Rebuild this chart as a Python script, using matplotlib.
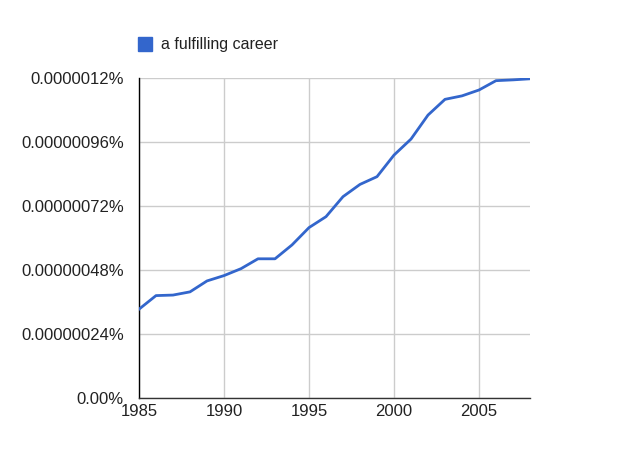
import matplotlib.pyplot as plt

plt.rcParams['font.family'] = ['Liberation Sans', 'DejaVu Sans']

# data (percent of all 3-grams)
years = list(range(1985, 2009))
freq = [0.333, 0.384, 0.386, 0.398, 0.439, 0.459, 0.485, 0.522, 0.522, 0.574,
        0.639, 0.680, 0.755, 0.801, 0.830, 0.911, 0.971, 1.061, 1.120, 1.133,
        1.155, 1.190, 1.193, 1.197]
freq = [v * 1e-6 for v in freq]

label = 'a fulfilling career'
y_ticks = [0.0, 0.24e-6, 0.48e-6, 0.72e-6, 0.96e-6, 1.2e-6]
y_tick_labels = ['0.00%', '0.00000024%', '0.00000048%', '0.00000072%',
                 '0.00000096%', '0.0000012%']
x_ticks = [1985, 1990, 1995, 2000, 2005]

blue = '#3366cc'

fig = plt.figure(figsize=(6.23, 4.57), dpi=100)
ax = fig.add_axes([139 / 623, 1 - 398 / 457, 391 / 623, 320 / 457])

ax.plot(years, freq, color=blue, lw=2.0, solid_joinstyle='round', zorder=3)

ax.set_xlim(1985, 2008)
ax.set_ylim(0, 1.2e-6)
ax.set_xticks(x_ticks)
ax.set_yticks(y_ticks)
ax.set_yticklabels(y_tick_labels)
ax.tick_params(length=0, labelsize=12, colors='#222222')
ax.tick_params(axis='x', pad=4)
ax.tick_params(axis='y', pad=11)

ax.grid(True, color='#cccccc', lw=1)
ax.set_axisbelow(True)
for s in ['top', 'right']:
    ax.spines[s].set_visible(False)
ax.spines['left'].set_color('#000000')
ax.spines['bottom'].set_color('#333333')
ax.spines['left'].set_linewidth(1)
ax.spines['bottom'].set_linewidth(1)

# legend box + text at top
fig.patches.append(plt.Rectangle((138 / 623, 1 - 51 / 457), 14 / 623, 14 / 457,
                                 transform=fig.transFigure, color=blue))
fig.text(161 / 623, 1 - 44 / 457, label, fontsize=11.5, va='center', color='#222222')

fig.savefig('out.png', dpi=100)
